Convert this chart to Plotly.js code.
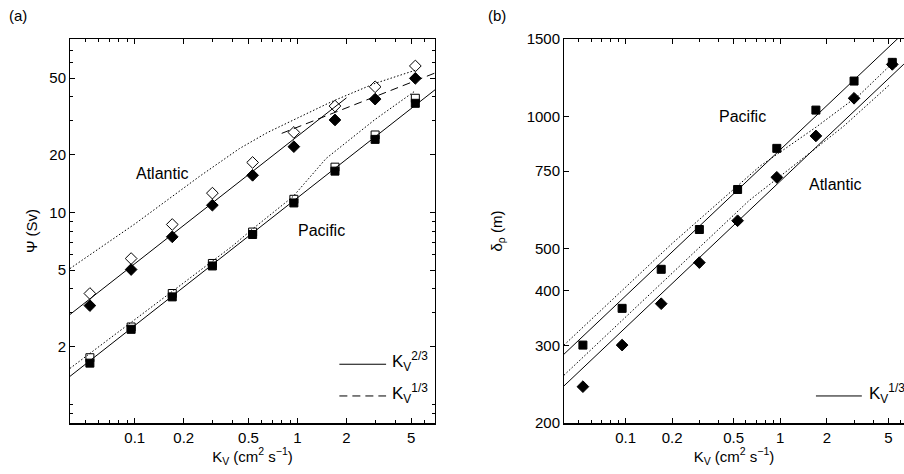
<!DOCTYPE html>
<html>
<head>
<meta charset="utf-8">
<script src="https://cdn.plot.ly/plotly-3.0.1.min.js"></script>
<style>html,body{margin:0;padding:0;background:#fff}#chart{width:904px;height:474px}</style>
</head>
<body>
<div id="chart"></div>
<script>
// ---- data ----
const kv = [0.053, 0.095, 0.17, 0.30, 0.53, 0.95, 1.7, 3.0, 5.3];

// panel (a): overturning Psi (Sv)
const psiAtlFilled = [3.27, 5.04, 7.46, 10.9, 15.6, 22.0, 30.3, 38.9, 49.9];
const psiAtlOpen   = [3.78, 5.75, 8.65, 12.6, 18.2, 26.1, 35.8, 45.1, 57.9];
const psiPacFilled = [1.64, 2.46, 3.63, 5.26, 7.67, 11.2, 16.4, 24.0, 37.0];
const psiPacOpen   = [1.75, 2.53, 3.78, 5.42, 7.90, 11.7, 17.2, 25.3, 39.3];

const atlDotKv  = [0.04, 0.1, 0.25, 0.44, 0.65, 0.82, 1.0, 1.65, 3.0, 5.3];
const atlDotPsi = [5.1, 8.7, 15.4, 21.5, 26.0, 28.5, 31.0, 38.0, 47.0, 55.0];
const pacDotKv  = [0.04, 0.1, 0.2, 0.4, 0.53, 0.94, 1.5, 3.0, 5.3];
const pacDotPsi = [1.54, 2.75, 4.3, 6.7, 8.2, 12.1, 19.1, 30.5, 43.0];

const fitAtlKv = [0.04, 2.0];   const fitAtlPsi = [2.94, 39.5];   // K^(2/3)
const fitPacKv = [0.04, 7.0];   const fitPacPsi = [1.40, 43.5];   // K^(2/3)
const fit13Kv  = [0.8, 7.0];    const fit13Psi  = [25.8, 53.2];   // K^(1/3)

// panel (b): pycnocline depth delta_rho (m)
const deltaPac = [301, 365, 448, 552, 681, 845, 1033, 1203, 1327];
const deltaAtl = [242, 301, 374, 464, 578, 726, 902, 1099, 1313];

const fitPacBKv = [0.04, 6.3];  const fitPacBD = [287, 1550];
const fitAtlBKv = [0.04, 6.3];  const fitAtlBD = [243, 1315];
const dotPacBKv = [0.04, 0.1, 0.2, 0.414, 0.74, 1.7, 3.28, 5.3];
const dotPacBD  = [301, 407, 513, 643, 770, 944, 1122, 1320];
const dotAtlBKv = [0.04, 0.1, 0.2, 0.63, 1.2, 2.56, 5.13];
const dotAtlBD  = [257, 349, 440, 643, 768, 948, 1183];

const xTicks = [0.1, 0.2, 0.5, 1, 2, 5];
const xMinor = [0.04,0.05,0.06,0.07,0.08,0.09,0.3,0.4,0.6,0.7,0.8,0.9,3,4,6,7];
const yTicksA = [2, 5, 10, 20, 50];
const yMinorA = [0.8,0.9,1,3,4,6,7,8,9,30,40,60,70,80];
const yTicksB = [200, 300, 400, 500, 750, 1000, 1500];

// ---- traces ----
const K = 'black';
const DOT = '1.5px,2px';
const line = (x, y, dash, xa, ya) => ({x, y, type:'scatter', mode:'lines', xaxis:xa, yaxis:ya,
  line:{color:K, width:1, dash}, showlegend:false, hoverinfo:'skip'});
const pts = (x, y, symbol, size, xa, ya) => ({x, y, type:'scatter', mode:'markers', xaxis:xa, yaxis:ya,
  marker:{symbol, size, color:K, line:{color:K, width:1}}, showlegend:false});

const traces = [
  line(atlDotKv, atlDotPsi, DOT, 'x', 'y'),
  line(pacDotKv, pacDotPsi, DOT, 'x', 'y'),
  line(fitAtlKv, fitAtlPsi, 'solid', 'x', 'y'),
  line(fitPacKv, fitPacPsi, 'solid', 'x', 'y'),
  line(fit13Kv, fit13Psi, '8px,5px', 'x', 'y'),
  pts(kv, psiAtlOpen, 'diamond-open', 9, 'x', 'y'),
  pts(kv, psiAtlFilled, 'diamond', 9, 'x', 'y'),
  pts(kv, psiPacOpen, 'square-open', 8, 'x', 'y'),
  pts(kv, psiPacFilled, 'square', 8, 'x', 'y'),

  line(dotPacBKv, dotPacBD, DOT, 'x2', 'y2'),
  line(dotAtlBKv, dotAtlBD, DOT, 'x2', 'y2'),
  line(fitPacBKv, fitPacBD, 'solid', 'x2', 'y2'),
  line(fitAtlBKv, fitAtlBD, 'solid', 'x2', 'y2'),
  pts(kv, deltaPac, 'square', 8, 'x2', 'y2'),
  pts(kv, deltaAtl, 'diamond', 9, 'x2', 'y2')
];

// ---- layout ----
const FONT = 'Liberation Sans, Arial, Helvetica, sans-serif';
const lg = Math.log10;
const xTitle = 'K<sub>V</sub> (cm<sup>2</sup> s<sup>\u22121</sup>)';
function xAxis(domain, range, anchor) {
  return {type:'log', domain, range, anchor, showline:true, linecolor:K, linewidth:1.5,
    mirror:'ticks', ticks:'inside', ticklen:5, tickcolor:K, tickwidth:1,
    tickvals:xTicks, ticktext:xTicks.map(String), showgrid:false, zeroline:false,
    minor:{ticks:'inside', ticklen:3, tickcolor:K, tickvals:xMinor, showgrid:false},
    tickfont:{family:FONT, size:15, color:K},
    title:{text:xTitle, font:{family:FONT, size:15, color:K}, standoff:6}};
}
// plot area: left 70, right 904, top 39, bottom 423 (pixels)
const px = p => (p - 70) / 834;
const py = p => (423 - p) / 384;
const layout = {
  width:904, height:474,
  margin:{l:70, r:0, t:39, b:51},
  paper_bgcolor:'white', plot_bgcolor:'white',
  showlegend:false,
  xaxis: xAxis([0, 365/834], [lg(0.04), lg(7)], 'y'),
  xaxis2: xAxis([494/834, 1], [lg(0.04), 0.8], 'y2'),
  yaxis: {type:'log', domain:[0,1], range:[lg(0.8), lg(80)], anchor:'x',
    showline:true, linecolor:K, linewidth:1, mirror:'ticks', ticks:'inside', ticklen:5, tickcolor:K,
    tickvals:yTicksA, ticktext:yTicksA.map(String), showgrid:false, zeroline:false,
    minor:{ticks:'inside', ticklen:3, tickcolor:K, tickvals:yMinorA, showgrid:false},
    tickfont:{family:FONT, size:15, color:K},
    title:{text:'\u03A8 (Sv)', font:{family:FONT, size:15, color:K}, standoff:8}},
  yaxis2: {type:'log', domain:[0,1], range:[lg(200), lg(1500)], anchor:'x2',
    showline:true, linecolor:K, linewidth:1, mirror:false, ticks:'inside', ticklen:5, tickcolor:K,
    tickvals:yTicksB, ticktext:yTicksB.map(String), showgrid:false, zeroline:false,
    tickfont:{family:FONT, size:15, color:K},
    title:{text:'\u03B4<sub>\u03C1</sub> (m)', font:{family:FONT, size:15, color:K}, standoff:20}},
  annotations: [
    {text:'(a)', xref:'paper', yref:'paper', x:px(7), y:py(15), xanchor:'left', yanchor:'middle',
      showarrow:false, font:{family:FONT, size:15, color:K}},
    {text:'(b)', xref:'paper', yref:'paper', x:px(486), y:py(15), xanchor:'left', yanchor:'middle',
      showarrow:false, font:{family:FONT, size:15, color:K}},
    {text:'Atlantic', xref:'x', yref:'y', x:lg(0.146), y:lg(16.0), showarrow:false,
      font:{family:FONT, size:16, color:K}},
    {text:'Pacific', xref:'x', yref:'y', x:lg(1.40), y:lg(8.07), showarrow:false,
      font:{family:FONT, size:16, color:K}},
    {text:'Pacific', xref:'x2', yref:'y2', x:lg(0.57), y:lg(1000), showarrow:false,
      font:{family:FONT, size:16, color:K}},
    {text:'Atlantic', xref:'x2', yref:'y2', x:lg(2.25), y:lg(700), showarrow:false,
      font:{family:FONT, size:16, color:K}},
    {text:'K<sub>V</sub><sup>2/3</sup>', xref:'x domain', yref:'y domain', x:0.878, y:0.16,
      xanchor:'left', yanchor:'middle', showarrow:false, font:{family:FONT, size:17, color:K}},
    {text:'K<sub>V</sub><sup>1/3</sup>', xref:'x domain', yref:'y domain', x:0.878, y:0.078,
      xanchor:'left', yanchor:'middle', showarrow:false, font:{family:FONT, size:17, color:K}},
    {text:'K<sub>V</sub><sup>1/3</sup>', xref:'x2 domain', yref:'y2 domain', x:0.892, y:0.078,
      xanchor:'left', yanchor:'middle', showarrow:false, font:{family:FONT, size:17, color:K}}
  ],
  shapes: [
    {type:'line', xref:'x domain', yref:'y domain', x0:0.738, x1:0.866, y0:0.153, y1:0.153,
      line:{color:K, width:1}},
    {type:'line', xref:'x domain', yref:'y domain', x0:0.738, x1:0.866, y0:0.0704, y1:0.0704,
      line:{color:K, width:1, dash:'8px,5px'}},
    {type:'line', xref:'x2 domain', yref:'y2 domain', x0:0.741, x1:0.876, y0:0.0704, y1:0.0704,
      line:{color:K, width:1}}
  ]
};

Plotly.newPlot('chart', traces, layout, {displayModeBar:false, staticPlot:true});
</script>
</body>
</html>
